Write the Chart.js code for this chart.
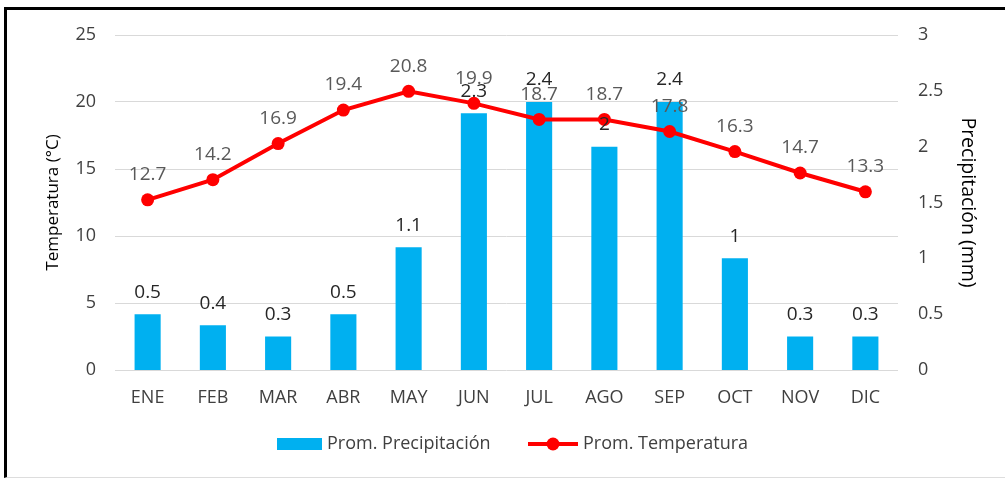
<!DOCTYPE html>
<html>
<head>
<meta charset="utf-8">
<script src="https://cdn.jsdelivr.net/npm/chart.js@4.4.1/dist/chart.umd.min.js"></script>
<style>
  html, body { margin: 0; padding: 0; background: #fff; overflow: hidden; }
  #wrap { position: relative; width: 1005px; height: 478px; }
  #frame {
    position: absolute; left: 4px; top: 7px; width: 1010px; height: 467px;
    border-top: 3px solid #000; border-left: 3px solid #000; border-bottom: 1px solid #ddd;
    pointer-events: none;
  }
  canvas { position: absolute; left: 0; top: 0; }
</style>
</head>
<body>
<div id="wrap">
  <canvas id="clima" width="1005" height="478"></canvas>
  <div id="frame"></div>
</div>
<script>
const meses = ['ENE', 'FEB', 'MAR', 'ABR', 'MAY', 'JUN', 'JUL', 'AGO', 'SEP', 'OCT', 'NOV', 'DIC'];
const precipitacion = [0.5, 0.4, 0.3, 0.5, 1.1, 2.3, 2.4, 2.0, 2.4, 1.0, 0.3, 0.3];
const temperatura = [12.7, 14.2, 16.9, 19.4, 20.8, 19.9, 18.7, 18.7, 17.8, 16.3, 14.7, 13.3];
const ticksTemp = [0, 5, 10, 15, 20, 25];
const ticksPrec = [0, 0.5, 1, 1.5, 2, 2.5, 3];

const FONT = "'Open Sans', sans-serif";
const AZUL = '#00B0F0';
const ROJO = '#FF0000';

// etiquetas de datos encima de barras y puntos
const etiquetas = {
    id: 'etiquetas',
    afterDatasetsDraw(chart) {
        const ctx = chart.ctx;
        ctx.save();
        ctx.textAlign = 'center';
        ctx.textBaseline = 'middle';
        ctx.font = '19px ' + FONT;

        // temperatura primero (queda debajo)
        ctx.fillStyle = '#595959';
        chart.getDatasetMeta(1).data.forEach((p, i) => {
            ctx.fillText(String(temperatura[i]), p.x, p.y - 25);
        });

        ctx.fillStyle = '#262626';
        chart.getDatasetMeta(0).data.forEach((b, i) => {
            ctx.fillText(String(precipitacion[i]), b.x, b.y - 22);
        });
        ctx.restore();
    }
};

// leyenda dibujada a mano
const leyenda = {
    id: 'leyenda',
    afterDraw(chart) {
        const ctx = chart.ctx;
        const y = 444;
        ctx.save();
        ctx.font = '18px ' + FONT;
        ctx.textBaseline = 'middle';

        ctx.fillStyle = AZUL;
        ctx.fillRect(277, y - 6, 45, 12);
        ctx.fillStyle = '#404040';
        ctx.fillText('Prom. Precipitación', 327, y);

        ctx.strokeStyle = ROJO;
        ctx.lineWidth = 4;
        ctx.beginPath();
        ctx.moveTo(528, y);
        ctx.lineTo(578, y);
        ctx.stroke();
        ctx.fillStyle = ROJO;
        ctx.beginPath();
        ctx.arc(553, y, 6.5, 0, Math.PI * 2);
        ctx.fill();
        ctx.fillStyle = '#404040';
        ctx.fillText('Prom. Temperatura', 583, y);
        ctx.restore();
    }
};

const ctx = document.getElementById('clima').getContext('2d');
new Chart(ctx, {
    type: 'bar',
    data: {
        labels: meses,
        datasets: [
            {
                label: 'Prom. Precipitación',
                data: precipitacion,
                backgroundColor: AZUL,
                yAxisID: 'y1',
                barPercentage: 0.8,
                categoryPercentage: 0.5,
                order: 2
            },
            {
                type: 'line',
                label: 'Prom. Temperatura',
                data: temperatura,
                borderColor: ROJO,
                backgroundColor: ROJO,
                borderWidth: 4,
                pointRadius: 6.5,
                pointHoverRadius: 6.5,
                pointBorderWidth: 0,
                tension: 0,
                yAxisID: 'y',
                order: 1
            }
        ]
    },
    options: {
        responsive: false,
        animation: false,
        events: [],
        layout: { padding: { top: 35, left: 0, right: 0, bottom: 0 } },
        plugins: {
            legend: { display: false },
            tooltip: { enabled: false }
        },
        scales: {
            x: {
                grid: { display: false, drawTicks: false },
                border: { display: false },
                ticks: { color: '#404040', font: { family: FONT, size: 18 }, padding: 17 },
                afterFit: s => { s.height = 108; }
            },
            y: {
                position: 'left',
                min: 0, max: 25,
                afterBuildTicks: s => { s.ticks = ticksTemp.map(v => ({ value: v })); },
                grid: { color: '#d9d9d9', lineWidth: 1, drawTicks: false },
                border: { display: false },
                ticks: { color: '#404040', font: { family: FONT, size: 18 }, padding: 19 },
                title: { display: true, text: 'Temperatura (°C)', color: '#000', font: { family: FONT, size: 17 }, padding: { top: 43, bottom: 0 } },
                afterFit: s => { s.width = 115; }
            },
            y1: {
                position: 'right',
                min: 0, max: 3,
                afterBuildTicks: s => { s.ticks = ticksPrec.map(v => ({ value: v })); },
                grid: { display: false, drawTicks: false },
                border: { display: false },
                ticks: { color: '#404040', font: { family: FONT, size: 18 }, padding: 20, callback: v => String(v) },
                title: { display: true, text: 'Precipitación (mm)', color: '#000', font: { family: FONT, size: 19.5 }, padding: { top: 26, bottom: 0 } },
                afterFit: s => { s.width = 107; }
            }
        }
    },
    plugins: [etiquetas, leyenda]
});
</script>
</body>
</html>
